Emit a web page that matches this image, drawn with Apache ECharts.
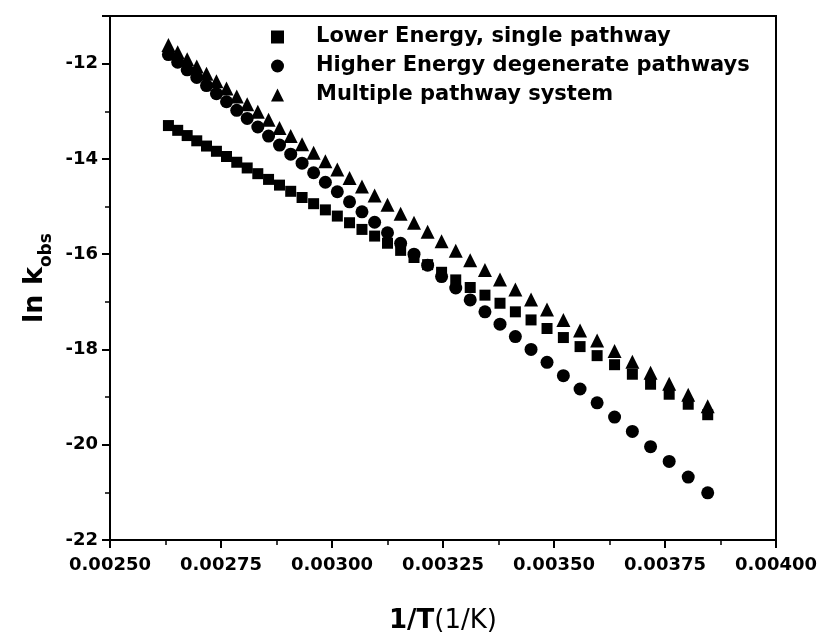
<!DOCTYPE html>
<html>
<head>
<meta charset="utf-8">
<script src="https://cdn.jsdelivr.net/npm/echarts@6/dist/echarts.min.js"></script>
<style>
  html, body { margin: 0; padding: 0; background: #fff; }
  #chart { width: 825px; height: 637px; }
</style>
</head>
<body>
<div id="chart"></div>
<script>
// Arrhenius data: 1/T (1/K) against ln k_obs for three kinetic models
const invT = [
  0.0026316, 0.0026525, 0.0026738, 0.0026954, 0.0027174, 0.0027397, 0.0027624,
  0.0027855, 0.0028090, 0.0028329, 0.0028571, 0.0028818, 0.0029070, 0.0029326,
  0.0029586, 0.0029851, 0.0030120, 0.0030395, 0.0030675, 0.0030960, 0.0031250,
  0.0031546, 0.0031847, 0.0032154, 0.0032468, 0.0032787, 0.0033113, 0.0033445,
  0.0033784, 0.0034130, 0.0034483, 0.0034843, 0.0035211, 0.0035587, 0.0035971,
  0.0036364, 0.0036765, 0.0037175, 0.0037594, 0.0038023, 0.0038462
];
const lowerEnergy = [
  -13.30, -13.40, -13.51, -13.62, -13.73, -13.84, -13.95, -14.07, -14.19, -14.31,
  -14.43, -14.55, -14.68, -14.81, -14.94, -15.07, -15.20, -15.34, -15.48, -15.62,
  -15.77, -15.92, -16.07, -16.22, -16.38, -16.54, -16.70, -16.86, -17.03, -17.21,
  -17.38, -17.56, -17.75, -17.94, -18.13, -18.32, -18.52, -18.73, -18.94, -19.15,
  -19.37
];
const higherEnergy = [
  -11.81, -11.97, -12.13, -12.29, -12.46, -12.63, -12.80, -12.98, -13.15, -13.33,
  -13.52, -13.71, -13.90, -14.09, -14.29, -14.49, -14.69, -14.90, -15.11, -15.33,
  -15.55, -15.77, -16.00, -16.23, -16.47, -16.71, -16.96, -17.21, -17.47, -17.73,
  -18.00, -18.27, -18.55, -18.83, -19.12, -19.42, -19.72, -20.04, -20.35, -20.68,
  -21.01
];
const multiplePathway = [
  -11.61, -11.76, -11.91, -12.06, -12.21, -12.37, -12.52, -12.69, -12.85, -13.01,
  -13.18, -13.35, -13.52, -13.69, -13.87, -14.05, -14.22, -14.40, -14.58, -14.77,
  -14.96, -15.15, -15.34, -15.53, -15.73, -15.93, -16.13, -16.33, -16.53, -16.74,
  -16.95, -17.16, -17.38, -17.60, -17.81, -18.03, -18.26, -18.49, -18.72, -18.95,
  -19.19
];
const seriesNames = [
  'Lower Energy, single pathway',
  'Higher Energy degenerate pathways',
  'Multiple pathway system'
];

const pairs = ys => invT.map((x, i) => [x, ys[i]]);
const FONT = '"DejaVu Sans", "Liberation Sans", Arial, sans-serif';

const chart = echarts.init(document.getElementById('chart'), null, { renderer: 'canvas' });

const axisCommon = {
  axisLine: { show: true, onZero: false, lineStyle: { color: '#000', width: 2 } },
  axisTick: { show: true, inside: false, length: 8, lineStyle: { color: '#000', width: 2 } },
  minorTick: { show: true, splitNumber: 2, length: 5, lineStyle: { color: '#000', width: 1.5 } },
  splitLine: { show: false },
  minorSplitLine: { show: false }
};

const markStyle = { color: '#000', opacity: 1 };

chart.setOption({
  backgroundColor: '#fff',
  animation: false,
  grid: {
    left: 110, right: 49, top: 16, bottom: 97,
    show: true, borderColor: '#000', borderWidth: 2,
    outerBoundsMode: 'none'
  },
  legend: {
    orient: 'vertical',
    left: 266, top: 21,
    itemWidth: 13, itemHeight: 13,
    itemGap: 7,
    textStyle: {
      fontFamily: FONT, fontWeight: 'bold', fontSize: 21, color: '#000',
      lineHeight: 22, padding: [0, 0, 0, 27]
    },
    data: seriesNames
  },
  xAxis: {
    type: 'value',
    min: 0.0025, max: 0.0040, interval: 0.00025,
    ...axisCommon,
    axisLabel: {
      fontFamily: FONT, fontWeight: 'bold', fontSize: 18, color: '#000',
      margin: 16, hideOverlap: false, showMinLabel: true, showMaxLabel: true,
      formatter: v => v.toFixed(5)
    },
    name: '{b|1/T}{r|(1/K)}',
    nameLocation: 'middle',
    nameGap: 68,
    nameTextStyle: {
      rich: {
        b: { fontFamily: FONT, fontWeight: 'bold', fontSize: 26, color: '#000' },
        r: { fontFamily: FONT, fontWeight: 'normal', fontSize: 26, color: '#000' }
      }
    }
  },
  yAxis: {
    type: 'value',
    min: -22, max: -11, interval: 2,
    ...axisCommon,
    axisLabel: {
      fontFamily: FONT, fontWeight: 'bold', fontSize: 18, color: '#000',
      margin: 12, showMaxLabel: false, hideOverlap: false
    },
    name: '{m|ln k}{s|obs}',
    nameLocation: 'middle',
    nameRotate: 90,
    nameGap: 53,
    nameTextStyle: {
      rich: {
        m: { fontFamily: FONT, fontWeight: 'bold', fontSize: 27, color: '#000', verticalAlign: 'bottom' },
        s: { fontFamily: FONT, fontWeight: 'bold', fontSize: 17, color: '#000', verticalAlign: 'bottom', padding: [0, 0, -6, 0] }
      }
    }
  },
  series: [
    {
      name: seriesNames[0], type: 'scatter', symbol: 'rect', symbolSize: 11,
      itemStyle: markStyle, data: pairs(lowerEnergy)
    },
    {
      name: seriesNames[1], type: 'scatter', symbol: 'circle', symbolSize: 13,
      itemStyle: markStyle, data: pairs(higherEnergy)
    },
    {
      name: seriesNames[2], type: 'scatter', symbol: 'triangle', symbolSize: 14,
      itemStyle: markStyle, data: pairs(multiplePathway)
    }
  ]
});
</script>
</body>
</html>
